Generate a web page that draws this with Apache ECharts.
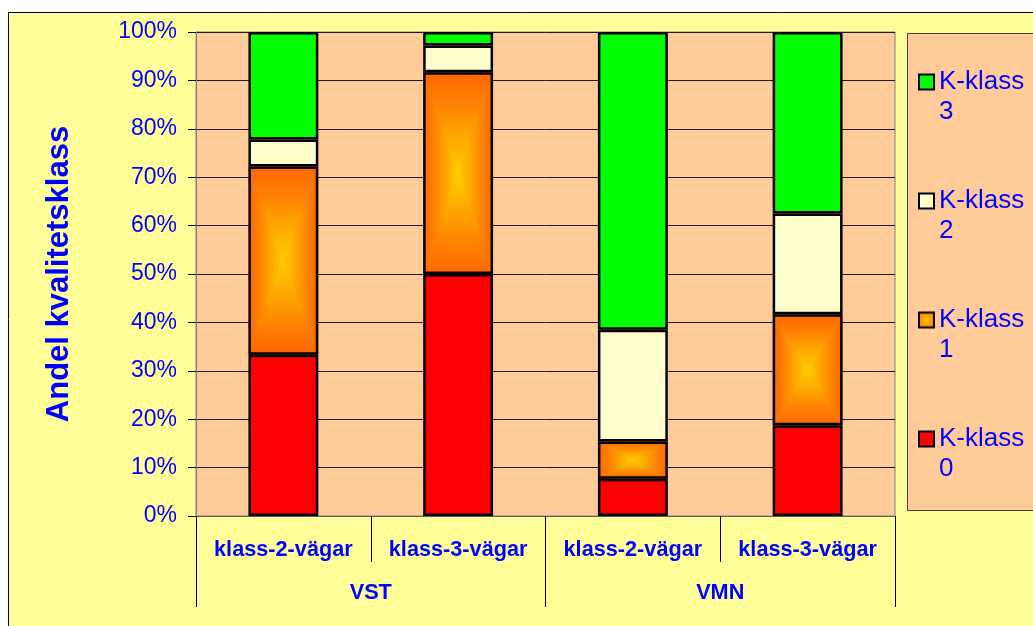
<!DOCTYPE html>
<html>
<head>
<meta charset="utf-8">
<script src="https://cdn.jsdelivr.net/npm/echarts@6/dist/echarts.min.js"></script>
<style>
  html, body { margin: 0; padding: 0; background: #ffffff; }
  #chart { width: 1033px; height: 626px; }
</style>
</head>
<body>
<div id="chart"></div>
<script>
// Share of roads per quality class (K-klass), per district and road class, in percent
const districts = ['VST', 'VMN'];
const roadClasses = ['klass-2-vägar', 'klass-3-vägar'];
const kklass0 = [33.33, 50.0, 7.69, 18.75];
const kklass1 = [38.89, 41.67, 7.69, 22.92];
const kklass2 = [5.56, 5.56, 23.08, 20.83];
const kklass3 = [22.22, 2.78, 61.54, 37.5];
const seriesNames = ['K-klass 0', 'K-klass 1', 'K-klass 2', 'K-klass 3'];
const yTickValues = [0, 10, 20, 30, 40, 50, 60, 70, 80, 90, 100];

const FONT = '"Liberation Sans", Arial, sans-serif';
const BLUE = '#0000FF';
const BAR_RATIO = 0.4;

// one category per district/road-class pair; the label shows only the road class
const categories = [];
districts.forEach(d => roadClasses.forEach(r => categories.push(d + '|' + r)));

// colour ramp of the K-klass 1 fill: orange rim to yellow core
const rampStops = [
  { offset: 0, color: '#FF6600' },
  { offset: 0.3, color: '#FF8000' },
  { offset: 0.65, color: '#FFA800' },
  { offset: 1, color: '#FFCC00' }
];
const lin = (x, y, x2, y2) => new echarts.graphic.LinearGradient(x, y, x2, y2, rampStops);
const horiz = new echarts.graphic.LinearGradient(0, 0, 1, 0, [
  { offset: 0, color: '#FF6600' },
  { offset: 0.15, color: '#FF8000' },
  { offset: 0.33, color: '#FFA800' },
  { offset: 0.5, color: '#FFCC00' },
  { offset: 0.67, color: '#FFA800' },
  { offset: 0.85, color: '#FF8000' },
  { offset: 1, color: '#FF6600' }
]);

// base/top of the K-klass 1 segment in each column
const k1Spans = kklass1.map((v, i) => [i, kklass0[i], kklass0[i] + v]);

const borderStyle = { borderColor: '#000000', borderWidth: 2.5 };

const chart = echarts.init(document.getElementById('chart'), null, { renderer: 'canvas' });

chart.setOption({
  backgroundColor: '#ffffff',
  animation: false,
  graphic: [
    {
      type: 'rect', z: -10,
      shape: { x: 8.5, y: 12.5, width: 1040, height: 630 },
      style: { fill: '#FFFF99', stroke: '#000000', lineWidth: 1 }
    },
    {
      type: 'rect', z: -9,
      shape: { x: 907.5, y: 33.5, width: 140, height: 477 },
      style: { fill: '#FFCC99', stroke: '#404040', lineWidth: 1 }
    }
  ],
  grid: {
    left: 196, right: 138, top: 32, bottom: 110,
    show: true,
    backgroundColor: '#FFCC99',
    borderColor: '#808080',
    borderWidth: 1
  },
  legend: {
    orient: 'vertical',
    left: 918,
    top: 37,
    padding: 0,
    itemGap: 29,
    icon: 'rect',
    itemWidth: 15,
    itemHeight: 15,
    itemStyle: { borderColor: '#000000', borderWidth: 2 },
    // blank first line keeps "K-klass" level with the swatch and the number beneath it
    formatter: name => '\u00a0\n' + name.replace(' ', '\n'),
    textStyle: {
      fontFamily: FONT, fontSize: 26, color: BLUE,
      lineHeight: 30
    },
    selectedMode: false,
    data: [
      { name: 'K-klass 3' },
      { name: 'K-klass 2' },
      {
        name: 'K-klass 1',
        itemStyle: {
          color: new echarts.graphic.RadialGradient(0.5, 0.5, 0.6, [
            { offset: 0, color: '#FFCC00' },
            { offset: 1, color: '#FF6600' }
          ])
        }
      },
      { name: 'K-klass 0' }
    ]
  },
  xAxis: [
    {
      type: 'category',
      gridIndex: 0,
      position: 'bottom',
      data: categories,
      axisLine: { show: true, lineStyle: { color: '#606060', width: 1 } },
      axisTick: { show: true, interval: 0, length: 46, lineStyle: { color: '#000000', width: 1 } },
      axisLabel: {
        interval: 0,
        margin: 23,
        fontFamily: FONT, fontSize: 21.7, fontWeight: 'bold', color: BLUE,
        formatter: v => v.split('|')[1]
      },
      splitLine: { show: false }
    },
    {
      type: 'category',
      gridIndex: 0,
      position: 'bottom',
      data: districts,
      axisLine: { show: false },
      axisTick: { show: true, interval: 0, length: 91, lineStyle: { color: '#000000', width: 1 } },
      axisLabel: {
        interval: 0,
        margin: 66,
        fontFamily: FONT, fontSize: 21.7, fontWeight: 'bold', color: BLUE
      },
      splitLine: { show: false }
    }
  ],
  yAxis: {
    type: 'value',
    min: yTickValues[0],
    max: yTickValues[yTickValues.length - 1],
    interval: 10,
    name: 'Andel kvalitetsklass',
    nameLocation: 'middle',
    nameGap: 121,
    nameTextStyle: { fontFamily: FONT, fontSize: 31, fontWeight: 'bold', color: BLUE },
    axisLine: { show: true, lineStyle: { color: '#808080', width: 1 } },
    axisTick: { show: true, length: 8, lineStyle: { color: '#000000', width: 1 } },
    axisLabel: {
      margin: 19,
      fontFamily: FONT, fontSize: 23, color: BLUE,
      formatter: '{value}%'
    },
    splitLine: { show: true, lineStyle: { color: '#1a1a1a', width: 1 } }
  },
  series: [
    {
      name: seriesNames[0], type: 'bar', stack: 'andel', z: 3,
      barWidth: (BAR_RATIO * 100) + '%',
      itemStyle: Object.assign({ color: '#FF0000' }, borderStyle),
      data: kklass0
    },
    {
      name: seriesNames[1], type: 'bar', stack: 'andel', z: 3,
      barWidth: (BAR_RATIO * 100) + '%',
      itemStyle: Object.assign({ color: 'rgba(0,0,0,0)' }, borderStyle),
      data: kklass1
    },
    {
      name: seriesNames[2], type: 'bar', stack: 'andel', z: 3,
      barWidth: (BAR_RATIO * 100) + '%',
      itemStyle: Object.assign({ color: '#FFFFCC' }, borderStyle),
      data: kklass2
    },
    {
      name: seriesNames[3], type: 'bar', stack: 'andel', z: 3,
      barWidth: (BAR_RATIO * 100) + '%',
      itemStyle: Object.assign({ color: '#00FF00' }, borderStyle),
      data: kklass3
    },
    {
      // centre-out shaded fill of the K-klass 1 segments, drawn beneath their outlines
      name: seriesNames[1],
      type: 'custom',
      z: 2,
      silent: true,
      encode: { x: 0, y: [1, 2] },
      data: k1Spans,
      renderItem: (params, api) => {
        const idx = api.value(0);
        const pLo = api.coord([idx, api.value(1)]);
        const pHi = api.coord([idx, api.value(2)]);
        const bw = api.size([1, 0])[0] * BAR_RATIO;
        const cx = pLo[0];
        const x0 = cx - bw / 2, x1 = cx + bw / 2;
        const y0 = pHi[1], y1 = pLo[1];
        const cy = (y0 + y1) / 2;
        return {
          type: 'group',
          children: [
            { type: 'rect', shape: { x: x0, y: y0, width: bw, height: y1 - y0 }, style: { fill: horiz } },
            { type: 'polygon', shape: { points: [[x0, y0], [x1, y0], [cx, cy]] }, style: { fill: lin(0, 0, 0, 1) } },
            { type: 'polygon', shape: { points: [[x0, y1], [x1, y1], [cx, cy]] }, style: { fill: lin(0, 1, 0, 0) } }
          ]
        };
      }
    }
  ]
});
</script>
</body>
</html>
